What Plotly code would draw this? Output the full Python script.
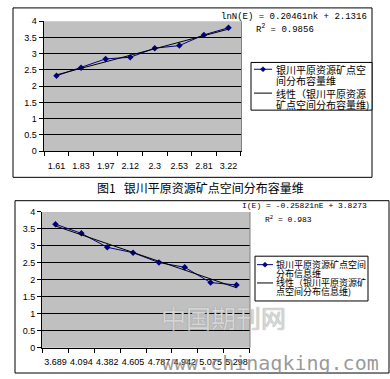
import numpy as np
import plotly.graph_objects as go

W, H = 390, 379

# ---- data ----
top_categories = ["1.61", "1.83", "1.97", "2.12", "2.3", "2.53", "2.81", "3.22"]
top_values = [2.32, 2.57, 2.84, 2.89, 3.17, 3.25, 3.58, 3.80]
bot_categories = ["3.689", "4.094", "4.382", "4.605", "4.787", "4.942", "5.075", "5.298"]
bot_values = [3.64, 3.37, 2.96, 2.80, 2.51, 2.37, 1.92, 1.85]
y_ticks = [0, 0.5, 1, 1.5, 2, 2.5, 3, 3.5, 4]
y_ticktext = ["0", "0.5", "1", "1.5", "2", "2.5", "3", "3.5", "4"]

top_legend_lines = [["银川平原资源矿点空", "间分布容量维"],
                    ["线性（银川平原资源", "矿点空间分布容量维)"]]
bot_legend_lines = [["银川平原资源矿点空间", "分布信息维"],
                    ["线性（银川平原资源矿", "点空间分布信息维)"]]
top_eq = "lnN(E) = 0.20461nk + 2.1316"
top_r2 = "R<sup>2</sup> = 0.9856"
bot_eq = "I(E) = -0.25821nE + 3.8273"
bot_r2 = "R<sup>2</sup> = 0.983"
caption = "图1   银川平原资源矿点空间分布容量维"
watermark_cn = "中国期刊网"
watermark_url = "www.chinaqking.com"


def px_x(p):
    return p / W


def px_y(p):
    return 1 - p / H


def trend(vals):
    idx = np.arange(1, len(vals) + 1)
    k, b = np.polyfit(idx, vals, 1)
    return list(k * idx + b)


NAVY = "#000080"
SANS = "Liberation Sans, Arial, sans-serif"
MONO = "Liberation Mono, DejaVu Sans Mono, monospace"
CJK = "Noto Sans CJK SC, sans-serif"

fig = go.Figure()

fig.add_trace(go.Scatter(x=top_categories, y=top_values, mode="lines+markers",
                         line=dict(color=NAVY, width=1),
                         marker=dict(symbol="diamond", size=5, color=NAVY),
                         xaxis="x", yaxis="y"))
fig.add_trace(go.Scatter(x=top_categories, y=trend(top_values), mode="lines",
                         line=dict(color="black", width=1),
                         xaxis="x", yaxis="y"))
fig.add_trace(go.Scatter(x=bot_categories, y=bot_values, mode="lines+markers",
                         line=dict(color=NAVY, width=1),
                         marker=dict(symbol="diamond", size=5, color=NAVY),
                         xaxis="x2", yaxis="y2"))
fig.add_trace(go.Scatter(x=bot_categories, y=trend(bot_values), mode="lines",
                         line=dict(color="black", width=1),
                         xaxis="x2", yaxis="y2"))

xax = dict(type="category", tickson="boundaries", ticks="outside", ticklen=4,
           tickcolor="black", showline=True, linecolor="black", linewidth=1,
           showgrid=False, zeroline=False, fixedrange=True, tickangle=0,
           tickfont=dict(family=SANS, size=9, color="black"))
yax = dict(range=[0, 4], tickvals=y_ticks, ticktext=y_ticktext, ticks="outside",
           ticklen=4, tickcolor="black", showline=True, linecolor="black",
           linewidth=1, showgrid=True, gridcolor="black", gridwidth=1,
           zeroline=False, fixedrange=True,
           tickfont=dict(family=SANS, size=9, color="black"))

fig.update_layout(
    width=W, height=H, margin=dict(l=0, r=0, t=0, b=0),
    paper_bgcolor="white", plot_bgcolor="#C0C0C0", showlegend=False,
    xaxis=dict(xax, domain=[px_x(43.5), px_x(241.5)], anchor="y",
               ticklabelstandoff=6),
    yaxis=dict(yax, domain=[px_y(150), px_y(16.7)], anchor="x"),
    xaxis2=dict(xax, domain=[px_x(42), px_x(250)], anchor="y2",
                ticklabelstandoff=5),
    yaxis2=dict(yax, domain=[px_y(352), px_y(212.6)], anchor="x2"),
)

shapes = [
    dict(type="rect", x0=px_x(13), x1=px_x(372), y0=px_y(177), y1=px_y(3),
         line=dict(color="black", width=1)),
    dict(type="rect", x0=px_x(15), x1=px_x(389), y0=px_y(378), y1=px_y(201),
         line=dict(color="black", width=1)),
    dict(type="line", x0=px_x(241.5), x1=px_x(241.5), y0=px_y(150), y1=px_y(16.7),
         line=dict(color="#808080", width=1)),
    dict(type="line", x0=px_x(250), x1=px_x(250), y0=px_y(352), y1=px_y(212.6),
         line=dict(color="#808080", width=1)),
]
ann = []


def diamond(cx, cy, r=2.6):
    return ("M {} {} L {} {} L {} {} L {} {} Z".format(
        px_x(cx), px_y(cy - r), px_x(cx + r), px_y(cy),
        px_x(cx), px_y(cy + r), px_x(cx - r), px_y(cy)))


def add_legend(box, entry_ys, line_x, text_x, line_gap, lines, fsize):
    x0, x1, y0, y1 = box
    shapes.append(dict(type="rect", x0=px_x(x0), x1=px_x(x1), y0=px_y(y1),
                       y1=px_y(y0), line=dict(color="black", width=1),
                       fillcolor="white"))
    for i, ey in enumerate(entry_ys):
        col = NAVY if i == 0 else "black"
        shapes.append(dict(type="line", x0=px_x(line_x[0]), x1=px_x(line_x[1]),
                           y0=px_y(ey), y1=px_y(ey), line=dict(color=col, width=1)))
        if i == 0:
            cx = (line_x[0] + line_x[1]) / 2
            shapes.append(dict(type="path", path=diamond(cx, ey),
                               fillcolor=NAVY, line=dict(color=NAVY, width=0.5)))
        for j, t in enumerate(lines[i]):
            ann.append(dict(text=t, x=px_x(text_x), y=px_y(ey + j * line_gap),
                            xanchor="left", yanchor="middle",
                            font=dict(family=CJK, size=fsize, color="black")))


add_legend((251, 372, 59, 108), [66, 90.5], (254, 272), 274, 12,
           top_legend_lines, 10)
add_legend((255, 368, 258, 304), [266.7, 285.5], (257, 273), 274, 9,
           bot_legend_lines, 9)

for s in shapes:
    s.update(xref="paper", yref="paper")

ann += [
    dict(text=top_eq, x=px_x(369), y=px_y(12), xanchor="right", yanchor="middle",
         font=dict(family=MONO, size=9, color="black")),
    dict(text=top_r2, x=px_x(316), y=px_y(25), xanchor="right", yanchor="middle",
         font=dict(family=MONO, size=9, color="black")),
    dict(text=bot_eq, x=px_x(369), y=px_y(206), xanchor="right", yanchor="middle",
         font=dict(family=MONO, size=8, color="black")),
    dict(text=bot_r2, x=px_x(314), y=px_y(220), xanchor="right", yanchor="middle",
         font=dict(family=MONO, size=8, color="black")),
    dict(text=caption, x=px_x(201), y=px_y(187), xanchor="center", yanchor="middle",
         font=dict(family=CJK, size=12, color="black")),
    dict(text=watermark_cn, x=px_x(223), y=px_y(320), xanchor="center",
         yanchor="middle",
         font=dict(family=CJK, size=25, color="rgba(225,225,225,0.9)",
                   shadow="0px 0px 1px #777")),
    dict(text=watermark_url, x=px_x(160), y=px_y(368), xanchor="left",
         yanchor="middle",
         font=dict(family="DejaVu Sans Mono, monospace", size=20,
                   color="rgba(135,135,135,0.85)")),
]
for a in ann:
    a.update(xref="paper", yref="paper", showarrow=False)

fig.update_layout(shapes=shapes, annotations=ann)

fig.write_html("out.html")
